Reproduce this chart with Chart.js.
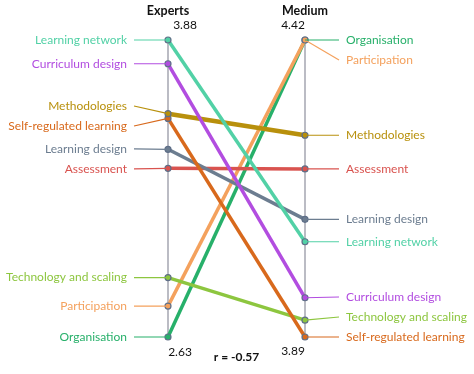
<!DOCTYPE html>
<html><head><meta charset="utf-8">
<script src="https://cdn.jsdelivr.net/npm/chart.js@4/dist/chart.umd.min.js"></script>
<style>html,body{margin:0;padding:0;background:#fff}#wrap{width:474px;height:374px;position:relative}</style>
</head><body><div id="wrap"><canvas id="c" width="474" height="374"></canvas></div>
<script>
const categories = ['Learning network','Curriculum design','Methodologies','Self-regulated learning','Learning design','Assessment','Technology and scaling','Participation','Organisation'];
const expertsValues = [3.88,3.78,3.57,3.55,3.42,3.34,2.88,2.76,2.63];
const mediumValues  = [4.06,3.96,4.25,3.89,4.10,4.19,3.92,4.42,4.42];
const axisTitles = ['Experts','Medium'];
const expertsTicks = [2.63,3.88];
const mediumTicks = [3.89,4.42];
const correlationLabel = 'r = -0.57';
const seriesColors = ['#52d1a6','#b24de0','#b8900c','#d8691c','#6c7d90','#d9534f','#8dc63f','#f4a15d','#27b06a'];

const FONT = 'Lato, "Open Sans", sans-serif';
function norm(v, t){ return (v - t[0]) / (t[1] - t[0]); }

const datasets = categories.map((name,i)=>({
  label: name,
  data: [{x:0, y:norm(expertsValues[i], expertsTicks)}, {x:1, y:norm(mediumValues[i], mediumTicks)}],
  borderColor: seriesColors[i],
  backgroundColor: seriesColors[i],
  borderWidth: i===2 ? 4.5 : 3.5,
  pointRadius: 3,
  pointBorderColor: '#5f6f88',
  pointBorderWidth: 1.2,
  pointBackgroundColor: seriesColors[i],
  tension: 0,
  clip: false
}));

function placeLabels(ys, gap, top, bottom){
  const idx = ys.map((y,i)=>i).sort((a,b)=> (ys[a]-ys[b]) || (b-a));
  let clusters = idx.map(i=>({items:[i], center: ys[i]}));
  function pos(c){ const n=c.items.length; let s=c.center-(n-1)*gap/2; s=Math.max(top, Math.min(s, bottom-(n-1)*gap)); return s; }
  let merged = true;
  while(merged){
    merged=false;
    for(let k=0;k<clusters.length-1;k++){
      const a=clusters[k], b=clusters[k+1];
      const aEnd = pos(a)+(a.items.length-1)*gap;
      if(pos(b)-aEnd < gap-0.01){
        const items=a.items.concat(b.items);
        const center=items.reduce((s,i)=>s+ys[i],0)/items.length;
        clusters.splice(k,2,{items,center}); merged=true; break;
      }
    }
  }
  const out=[];
  clusters.forEach(c=>{ const s=pos(c); c.items.forEach((i,j)=>out[i]=s+j*gap); });
  return out;
}

const slopePlugin = {
  id:'slope',
  beforeDatasetsDraw(chart){
    const {ctx, scales:{x,y}} = chart;
    ctx.save();
    ctx.strokeStyle='#a4a6b0'; ctx.lineWidth=1.5;
    [0,1].forEach(v=>{ const px=x.getPixelForValue(v); ctx.beginPath(); ctx.moveTo(px, y.getPixelForValue(1)); ctx.lineTo(px, y.getPixelForValue(0)); ctx.stroke(); });
    ctx.restore();
  },
  afterDatasetsDraw(chart){
    const {ctx, scales:{x,y}} = chart;
    const xl = x.getPixelForValue(0), xr = x.getPixelForValue(1);
    const top = y.getPixelForValue(1), bottom = y.getPixelForValue(0);
    const leftY = expertsValues.map(v=>y.getPixelForValue(norm(v, expertsTicks)));
    const rightY = mediumValues.map(v=>y.getPixelForValue(norm(v, mediumTicks)));
    const leftL = placeLabels(leftY, 20, top, bottom);
    const rightL = placeLabels(rightY, 20, top, bottom);
    ctx.save();
    ctx.font = '12px ' + FONT;
    ctx.textBaseline='middle';
    categories.forEach((name,i)=>{
      ctx.strokeStyle = seriesColors[i]; ctx.lineWidth=1.2;
      ctx.beginPath(); ctx.moveTo(xl-34, leftL[i]); ctx.lineTo(xl, leftY[i]); ctx.stroke();
      ctx.beginPath(); ctx.moveTo(xr, rightY[i]); ctx.lineTo(xr+34, rightL[i]); ctx.stroke();
      ctx.fillStyle = seriesColors[i];
      ctx.textAlign='right'; ctx.fillText(name, xl-41, leftL[i]);
      ctx.textAlign='left'; ctx.fillText(name, xr+41, rightL[i]);
    });
    ctx.fillStyle='#111';
    ctx.textAlign='center';
    ctx.font='bold 12.5px ' + FONT;
    ctx.fillText(axisTitles[0], xl, 11);
    ctx.fillText(axisTitles[1], xr, 11);
    ctx.font='12px ' + FONT;
    ctx.fillText(expertsTicks[1].toFixed(2), xl+17, top-15);
    ctx.fillText(mediumTicks[1].toFixed(2), xr-12, top-15);
    ctx.fillText(expertsTicks[0].toFixed(2), xl+12, bottom+15);
    ctx.fillText(mediumTicks[0].toFixed(2), xr-12, bottom+14);
    ctx.font='bold 12px ' + FONT;
    ctx.fillText(correlationLabel, (xl+xr)/2, bottom+20);
    ctx.restore();
  }
};

new Chart(document.getElementById('c'), {
  type:'line',
  data:{datasets},
  options:{
    responsive:false, animation:false, devicePixelRatio:1,
    layout:{padding:{left:168, right:169, top:40, bottom:37}},
    plugins:{legend:{display:false}, tooltip:{enabled:false}},
    scales:{
      x:{type:'linear', min:0, max:1, display:false},
      y:{type:'linear', min:0, max:1, display:false}
    }
  },
  plugins:[slopePlugin]
});
</script></body></html>
